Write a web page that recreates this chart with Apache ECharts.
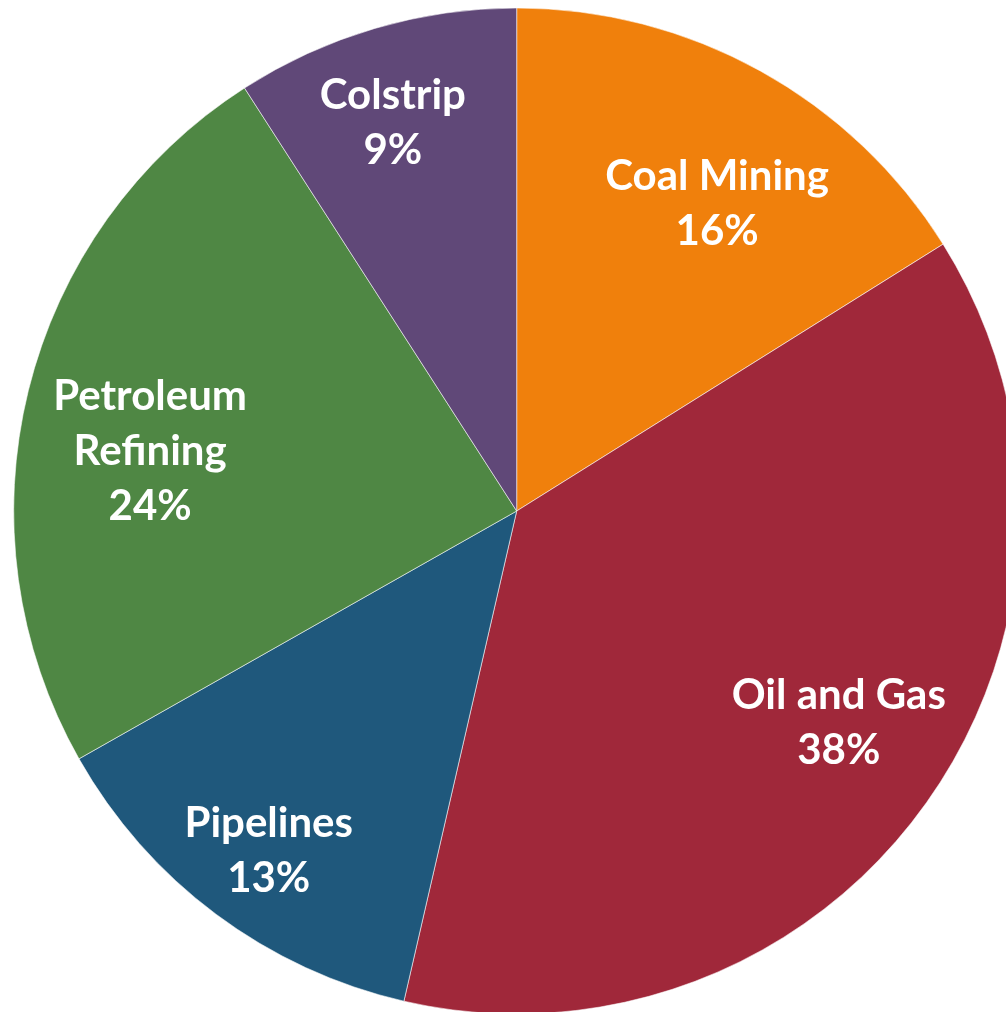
<!DOCTYPE html>
<html>
<head>
<meta charset="utf-8">
<script src="https://cdn.jsdelivr.net/npm/echarts@6/dist/echarts.min.js"></script>
<style>
html,body{margin:0;padding:0;background:#fff;}
#chart{width:1006px;height:1012px;}
</style>
</head>
<body>
<div id="chart"></div>
<script>
var categories = ['Coal Mining', 'Oil and Gas', 'Pipelines', 'Petroleum\nRefining', 'Colstrip'];
var values = [16.1, 37.5, 13.2, 24.1, 9.1];
var colors = ['#F0800C', '#A0283A', '#1F587C', '#4F8744', '#604878'];

// label nudges (layout only) to mimic the original label placement
var labelNudge = [[10, 37], [2, -16], [-13, 25], [15, 35], [-13, -11]];

var data = categories.map(function (c, i) {
  return { name: c, value: values[i], itemStyle: { color: colors[i] } };
});

var chart = echarts.init(document.getElementById('chart'), null, { renderer: 'canvas' });
chart.setOption({
  animation: false,
  series: [
    {
      type: 'pie',
      center: [516.7, 511],
      radius: [0, 503],
      startAngle: 90,
      clockwise: true,
      percentPrecision: 0,
      silent: true,
      data: data,
      itemStyle: { borderColor: 'rgba(255,255,255,0.55)', borderWidth: 1 },
      label: { show: false },
      labelLine: { show: false }
    },
    {
      type: 'pie',
      center: [516.7, 511],
      radius: [277, 503],
      startAngle: 90,
      clockwise: true,
      percentPrecision: 0,
      silent: true,
      z: 3,
      data: data.map(function (d, i) {
        return { name: d.name, value: d.value, label: { offset: labelNudge[i] } };
      }),
      itemStyle: { color: 'rgba(0,0,0,0)', borderWidth: 0 },
      label: {
        show: true,
        position: 'inside',
        formatter: '{b}\n{d}%',
        color: '#fff',
        fontFamily: 'Lato',
        fontWeight: 'bold',
        fontSize: 42,
        lineHeight: 55,
        align: 'center'
      },
      labelLine: { show: false }
    }
  ]
});
</script>
</body>
</html>
